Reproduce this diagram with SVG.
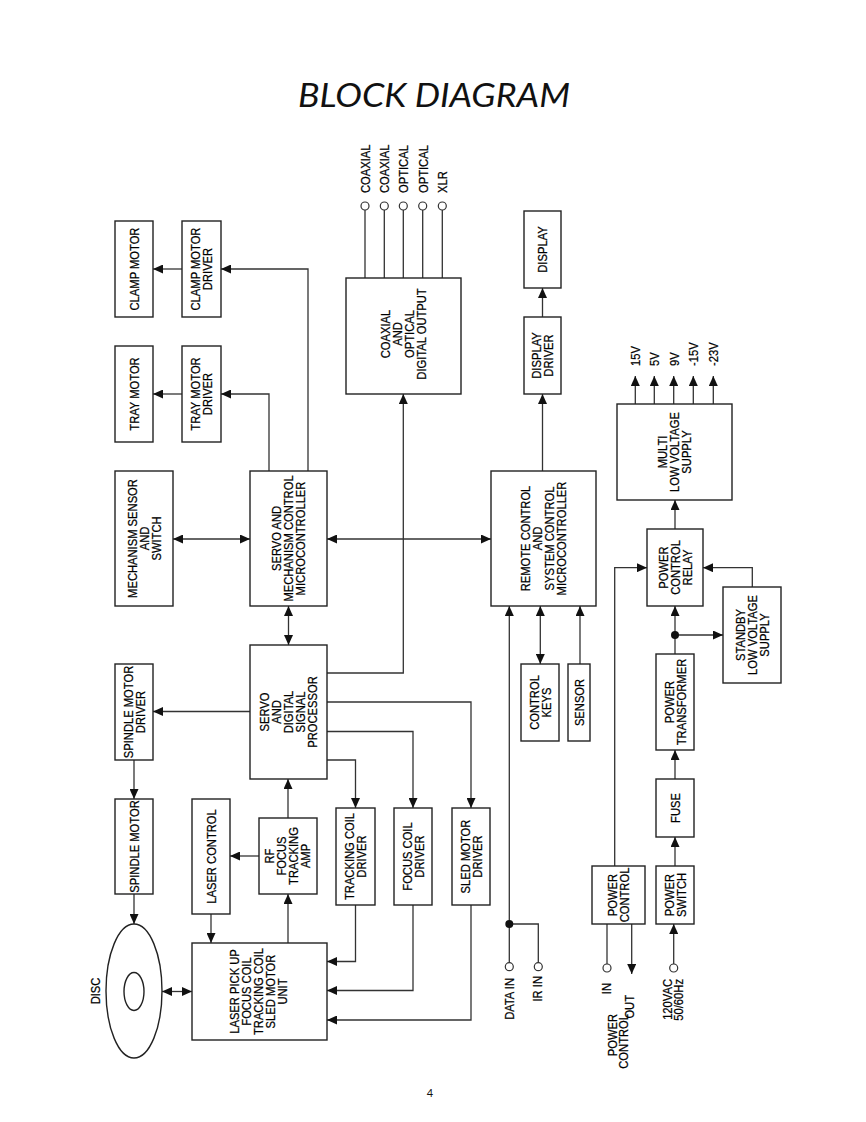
<svg xmlns="http://www.w3.org/2000/svg" width="866" height="1122" viewBox="0 0 866 1122">
<style>
.b{fill:#fff;stroke:#222;stroke-width:1.4}
.l{fill:none;stroke:#333;stroke-width:1.3}
.a{marker-end:url(#ah)}
.ab{marker-start:url(#ah);marker-end:url(#ah)}
.c{fill:#fff;stroke:#333;stroke-width:1.2}
.t{font-family:"Liberation Sans",Arial,sans-serif;font-size:13.5px;fill:#000;stroke:#000;stroke-width:0.25;text-anchor:middle}
.s{text-anchor:start}
.e{text-anchor:end}
</style>
<defs>
<marker id="ah" viewBox="0 0 10 9" refX="10" refY="4.5" markerWidth="10" markerHeight="9" markerUnits="userSpaceOnUse" orient="auto-start-reverse">
<path d="M0,0 L10,4.5 L0,9 z" fill="#111"/>
</marker>
</defs>
<rect width="866" height="1122" fill="#fff"/>
<text x="434" y="106.5" textLength="272" lengthAdjust="spacingAndGlyphs" style="font-family:Lato,'Open Sans',sans-serif;font-style:italic;font-size:33px;fill:#111;text-anchor:middle">BLOCK DIAGRAM</text>
<text x="430" y="1097" style="font-family:Lato,sans-serif;font-size:11px;fill:#111;text-anchor:middle">4</text>

<g id="connectors">
<path class="l a" d="M308,471 V269 H221"/>
<path class="l a" d="M182,269 H153"/>
<path class="l a" d="M269,471 V394 H221"/>
<path class="l a" d="M182,394 H153"/>
<path class="l ab" d="M173,539 H250"/>
<path class="l ab" d="M327,539 H491"/>
<path class="l ab" d="M288.5,606 V645"/>
<path class="l a" d="M327,673 H403.3 V394"/>
<path class="l a" d="M327,702 H471 V808"/>
<path class="l a" d="M327,731.5 H413 V808"/>
<path class="l a" d="M327,760 H355.5 V808"/>
<path class="l a" d="M250,711.5 H153"/>
<path class="l a" d="M134,760 V799"/>
<path class="l a" d="M134,894 V924"/>
<path class="l ab" d="M162,991.5 H192"/>
<path class="l a" d="M211,914 V943"/>
<path class="l a" d="M259,856 H230"/>
<path class="l a" d="M288,943 V894"/>
<path class="l a" d="M288,818 V779"/>
<path class="l a" d="M355.5,905 V961.5 H327"/>
<path class="l a" d="M413,905 V990.5 H327"/>
<path class="l a" d="M471,905 V1020 H327"/>
<path class="l" d="M365,278 V210 M384.3,278 V210 M403.3,278 V210 M422.7,278 V210 M442.3,278 V210"/>
<path class="l a" d="M542.5,471 V394"/>
<path class="l a" d="M542.5,317 V288"/>
<path class="l a" d="M509.3,962.7 V606"/>
<path class="l" d="M538.3,962.7 V924 H509.3"/>
<circle cx="509.3" cy="924" r="4" fill="#111"/>
<path class="l ab" d="M540.3,606 V664"/>
<path class="l a" d="M580,664 V606"/>
<path class="l a" d="M635.3,404 V376"/>
<path class="l a" d="M654.3,404 V376"/>
<path class="l a" d="M673.7,404 V376"/>
<path class="l a" d="M693.3,404 V376"/>
<path class="l a" d="M713.3,404 V376"/>
<path class="l a" d="M675,529 V500"/>
<path class="l a" d="M614.7,866 V567.7 H647"/>
<path class="l a" d="M752.3,587 V567.7 H703"/>
<path class="l a" d="M675,654 V606"/>
<path class="l a" d="M675,635 H723"/>
<circle cx="675" cy="635" r="4" fill="#111"/>
<path class="l a" d="M675,779 V750"/>
<path class="l a" d="M675,866 V837"/>
<path class="l a" d="M673.7,964 V924"/>
<path class="l" d="M607,924 V964"/>
<path class="l a" d="M631.7,924 V974"/>
<circle class="c" cx="365" cy="206" r="4"/>
<circle class="c" cx="384.3" cy="206" r="4"/>
<circle class="c" cx="403.3" cy="206" r="4"/>
<circle class="c" cx="422.7" cy="206" r="4"/>
<circle class="c" cx="442.3" cy="206" r="4"/>
<circle class="c" cx="509.3" cy="966.7" r="4"/>
<circle class="c" cx="538.3" cy="966.7" r="4"/>
<circle class="c" cx="607" cy="968" r="4"/>
<circle class="c" cx="673.7" cy="968" r="4"/>
</g>

<g id="clamp-motor"><rect class="b" x="115" y="221" width="38" height="96"/>
<text class="t" transform="translate(134,269) rotate(-90) scale(0.83,1)"><tspan x="0" y="4.85">CLAMP MOTOR</tspan></text></g>
<g id="clamp-motor-driver"><rect class="b" x="182" y="221" width="39" height="96"/>
<text class="t" transform="translate(201.5,269) rotate(-90) scale(0.83,1)"><tspan x="0" y="-1.15">CLAMP MOTOR</tspan><tspan x="0" y="10.85">DRIVER</tspan></text></g>
<g id="tray-motor"><rect class="b" x="115" y="346" width="38" height="96"/>
<text class="t" transform="translate(134,394) rotate(-90) scale(0.83,1)"><tspan x="0" y="4.85">TRAY MOTOR</tspan></text></g>
<g id="tray-motor-driver"><rect class="b" x="182" y="346" width="39" height="96"/>
<text class="t" transform="translate(201.5,394) rotate(-90) scale(0.83,1)"><tspan x="0" y="-1.15">TRAY MOTOR</tspan><tspan x="0" y="10.85">DRIVER</tspan></text></g>
<g id="mechanism-sensor"><rect class="b" x="115" y="471" width="58" height="135"/>
<text class="t" transform="translate(144,538.5) rotate(-90) scale(0.83,1)"><tspan x="0" y="-7.15">MECHANISM SENSOR</tspan><tspan x="0" y="4.85">AND</tspan><tspan x="0" y="16.85">SWITCH</tspan></text></g>
<g id="servo-mechanism"><rect class="b" x="250" y="471" width="77" height="135"/>
<text class="t" transform="translate(288.5,538.5) rotate(-90) scale(0.83,1)"><tspan x="0" y="-7.15">SERVO AND</tspan><tspan x="0" y="4.85">MECHANISM CONTROL</tspan><tspan x="0" y="16.85">MICROCONTROLLER</tspan></text></g>
<g id="coaxial-output"><rect class="b" x="346" y="278" width="115" height="116"/>
<text class="t" transform="translate(403.5,334) rotate(-90) scale(0.83,1)"><tspan x="0" y="-13.15">COAXIAL</tspan><tspan x="0" y="-1.15">AND</tspan><tspan x="0" y="10.85">OPTICAL</tspan><tspan x="0" y="22.85">DIGITAL OUTPUT</tspan></text></g>
<g id="output-labels">
<text class="t s" transform="translate(369.8,193) rotate(-90) scale(0.83,1)">COAXIAL</text>
<text class="t s" transform="translate(389.1,193) rotate(-90) scale(0.83,1)">COAXIAL</text>
<text class="t s" transform="translate(408.1,193) rotate(-90) scale(0.83,1)">OPTICAL</text>
<text class="t s" transform="translate(427.5,193) rotate(-90) scale(0.83,1)">OPTICAL</text>
<text class="t s" transform="translate(447.1,193) rotate(-90) scale(0.83,1)">XLR</text>
</g>
<g id="display"><rect class="b" x="524" y="211" width="37" height="77"/>
<text class="t" transform="translate(542.5,249.5) rotate(-90) scale(0.83,1)"><tspan x="0" y="4.85">DISPLAY</tspan></text></g>
<g id="display-driver"><rect class="b" x="524" y="317" width="37" height="77"/>
<text class="t" transform="translate(542.5,355.5) rotate(-90) scale(0.83,1)"><tspan x="0" y="-1.15">DISPLAY</tspan><tspan x="0" y="10.85">DRIVER</tspan></text></g>
<g id="remote-control"><rect class="b" x="491" y="471" width="105" height="135"/>
<text class="t" transform="translate(543.5,538.5) rotate(-90) scale(0.83,1)"><tspan x="0" y="-13.15">REMOTE CONTROL</tspan><tspan x="0" y="-1.15">AND</tspan><tspan x="0" y="10.85">SYSTEM CONTROL</tspan><tspan x="0" y="22.85">MICROCONTROLLER</tspan></text></g>
<g id="multi-supply"><rect class="b" x="617" y="404" width="115" height="96"/>
<text class="t" transform="translate(674.5,452) rotate(-90) scale(0.83,1)"><tspan x="0" y="-7.15">MULTI</tspan><tspan x="0" y="4.85">LOW VOLTAGE</tspan><tspan x="0" y="16.85">SUPPLY</tspan></text></g>
<g id="voltage-labels">
<text class="t s" transform="translate(640.1,366) rotate(-90) scale(0.83,1)">15V</text>
<text class="t s" transform="translate(659.1,366) rotate(-90) scale(0.83,1)">5V</text>
<text class="t s" transform="translate(678.5,366) rotate(-90) scale(0.83,1)">9V</text>
<text class="t s" transform="translate(698.1,366) rotate(-90) scale(0.83,1)">-15V</text>
<text class="t s" transform="translate(718.1,366) rotate(-90) scale(0.83,1)">-23V</text>
</g>
<g id="power-control-relay"><rect class="b" x="647" y="529" width="56" height="77"/>
<text class="t" transform="translate(675,567.5) rotate(-90) scale(0.83,1)"><tspan x="0" y="-7.15">POWER</tspan><tspan x="0" y="4.85">CONTROL</tspan><tspan x="0" y="16.85">RELAY</tspan></text></g>
<g id="standby-supply"><rect class="b" x="723" y="587" width="58" height="96"/>
<text class="t" transform="translate(752,635) rotate(-90) scale(0.83,1)"><tspan x="0" y="-7.15">STANDBY</tspan><tspan x="0" y="4.85">LOW VOLTAGE</tspan><tspan x="0" y="16.85">SUPPLY</tspan></text></g>
<g id="power-transformer"><rect class="b" x="656" y="654" width="38" height="96"/>
<text class="t" transform="translate(675,702) rotate(-90) scale(0.83,1)"><tspan x="0" y="-1.15">POWER</tspan><tspan x="0" y="10.85">TRANSFORMER</tspan></text></g>
<g id="fuse"><rect class="b" x="656" y="779" width="38" height="58"/>
<text class="t" transform="translate(675,808) rotate(-90) scale(0.83,1)"><tspan x="0" y="4.85">FUSE</tspan></text></g>
<g id="power-switch"><rect class="b" x="656" y="866" width="38" height="58"/>
<text class="t" transform="translate(675,895) rotate(-90) scale(0.83,1)"><tspan x="0" y="-1.15">POWER</tspan><tspan x="0" y="10.85">SWITCH</tspan></text></g>
<g id="power-control"><rect class="b" x="592" y="866" width="53" height="58"/>
<text class="t" transform="translate(618.5,895) rotate(-90) scale(0.83,1)"><tspan x="0" y="-1.15">POWER</tspan><tspan x="0" y="10.85">CONTROL</tspan></text></g>
<g id="power-labels">
<text class="t e" transform="translate(610.8,983) rotate(-90) scale(0.83,1)">IN</text>
<text class="t e" transform="translate(633.8,995) rotate(-90) scale(0.83,1)">OUT</text>
<text class="t e" transform="translate(617.3,1014) rotate(-90) scale(0.83,1)"><tspan x="0" y="0">POWER</tspan><tspan x="0" y="11">CONTROL</tspan></text>
<text class="t e" transform="translate(671.8,979) rotate(-90) scale(0.83,1)"><tspan x="0" y="0">120VAC</tspan><tspan x="0" y="11">50/60Hz</tspan></text>
</g>
<g id="control-keys"><rect class="b" x="521" y="664" width="38" height="77"/>
<text class="t" transform="translate(540,702.5) rotate(-90) scale(0.83,1)"><tspan x="0" y="-1.15">CONTROL</tspan><tspan x="0" y="10.85">KEYS</tspan></text></g>
<g id="sensor"><rect class="b" x="568" y="664" width="22" height="77"/>
<text class="t" transform="translate(579,702.5) rotate(-90) scale(0.83,1)"><tspan x="0" y="4.85">SENSOR</tspan></text></g>
<g id="data-labels">
<text class="t e" transform="translate(513.6,978) rotate(-90) scale(0.83,1)">DATA IN</text>
<text class="t e" transform="translate(541.8,976) rotate(-90) scale(0.83,1)">IR IN</text>
</g>
<g id="servo-dsp"><rect class="b" x="250" y="645" width="77" height="134"/>
<text class="t" transform="translate(288.5,712) rotate(-90) scale(0.83,1)"><tspan x="0" y="-19.15">SERVO</tspan><tspan x="0" y="-7.15">AND</tspan><tspan x="0" y="4.85">DIGITAL</tspan><tspan x="0" y="16.85">SIGNAL</tspan><tspan x="0" y="28.85">PROCESSOR</tspan></text></g>
<g id="spindle-motor-driver"><rect class="b" x="115" y="664" width="38" height="96"/>
<text class="t" transform="translate(134,712) rotate(-90) scale(0.83,1)"><tspan x="0" y="-1.15">SPINDLE MOTOR</tspan><tspan x="0" y="10.85">DRIVER</tspan></text></g>
<g id="spindle-motor"><rect class="b" x="115" y="799" width="38" height="95"/>
<text class="t" transform="translate(134,846.5) rotate(-90) scale(0.83,1)"><tspan x="0" y="4.85">SPINDLE MOTOR</tspan></text></g>
<g id="laser-control"><rect class="b" x="192" y="799" width="38" height="115"/>
<text class="t" transform="translate(211,856.5) rotate(-90) scale(0.83,1)"><tspan x="0" y="4.85">LASER CONTROL</tspan></text></g>
<g id="rf-amp"><rect class="b" x="259" y="818" width="58" height="76"/>
<text class="t" transform="translate(287,856) rotate(-90) scale(0.83,1)"><tspan x="0" y="-13.15">RF</tspan><tspan x="0" y="-1.15">FOCUS</tspan><tspan x="0" y="10.85">TRACKING</tspan><tspan x="0" y="22.85">AMP</tspan></text></g>
<g id="tracking-coil-driver"><rect class="b" x="336" y="808" width="39" height="97"/>
<text class="t" transform="translate(355.5,856.5) rotate(-90) scale(0.83,1)"><tspan x="0" y="-1.15">TRACKING COIL</tspan><tspan x="0" y="10.85">DRIVER</tspan></text></g>
<g id="focus-coil-driver"><rect class="b" x="394" y="808" width="38" height="97"/>
<text class="t" transform="translate(413,856.5) rotate(-90) scale(0.83,1)"><tspan x="0" y="-1.15">FOCUS COIL</tspan><tspan x="0" y="10.85">DRIVER</tspan></text></g>
<g id="sled-motor-driver"><rect class="b" x="452" y="808" width="38" height="97"/>
<text class="t" transform="translate(471,856.5) rotate(-90) scale(0.83,1)"><tspan x="0" y="-1.15">SLED MOTOR</tspan><tspan x="0" y="10.85">DRIVER</tspan></text></g>
<g id="laser-pickup"><rect class="b" x="192" y="943" width="135" height="97"/>
<text class="t" transform="translate(258,991.5) rotate(-90) scale(0.83,1)"><tspan x="0" y="-19.15">LASER PICK UP</tspan><tspan x="0" y="-7.15">FOCUS COIL</tspan><tspan x="0" y="4.85">TRACKING COIL</tspan><tspan x="0" y="16.85">SLED MOTOR</tspan><tspan x="0" y="28.85">UNIT</tspan></text></g>
<g id="disc"><ellipse class="b" cx="134" cy="991" rx="28" ry="67"/><ellipse class="b" cx="134" cy="991.5" rx="10" ry="19"/>
<text class="t" transform="translate(95,991) rotate(-90) scale(0.83,1)"><tspan x="0" y="4.85">DISC</tspan></text></g>
</svg>
